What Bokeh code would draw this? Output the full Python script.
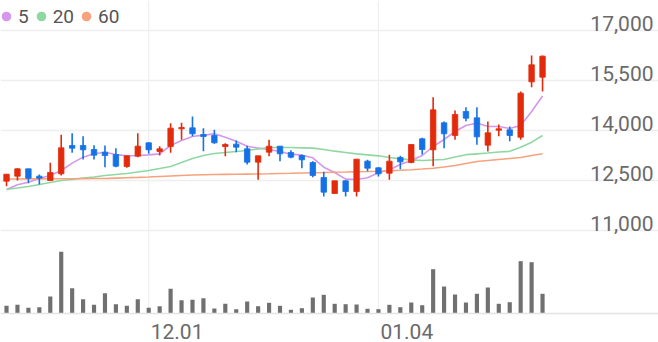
from bokeh.plotting import figure
from bokeh.models import (ColumnDataSource, Range1d, FixedTicker, Span, Legend, LegendItem, Grid)
from bokeh.core.properties import value
from bokeh.embed import file_html
from bokeh.resources import INLINE

# ---- data ----
opens = [12480, 12630, 12850, 12630, 12500, 12700, 13550, 13550, 13430, 13350,
         13280, 12920, 13230, 13630, 13370, 13520, 14050, 14080, 13880, 13850,
         13520, 13590, 13450, 13050, 13350, 13530, 13340, 13250, 13040, 12590,
         12110, 12490, 12170, 13080, 12880, 12720, 13190, 13040, 13750, 13420,
         14230, 13850, 14570, 14380, 13560, 14010, 14020, 13800, 15460, 15600]
highs = [12690, 12870, 12850, 12680, 13030, 13870, 13920, 13830, 13560, 13550,
         13470, 13240, 13920, 13650, 13530, 14220, 14230, 14420, 14070, 14020,
         13620, 13700, 13540, 13240, 13720, 13530, 13410, 13280, 13080, 12760,
         12490, 12510, 13140, 13120, 12900, 13270, 13240, 13580, 13780, 15000,
         14270, 14600, 14700, 14700, 14270, 14180, 14120, 15170, 16250, 16250]
lows = [12330, 12500, 12420, 12380, 12500, 12650, 13330, 13130, 13130, 12900,
        12900, 12880, 13200, 13300, 13250, 13330, 13720, 13830, 13380, 13600,
        13230, 13350, 12980, 12520, 13230, 13080, 13170, 12870, 12600, 12020,
        12110, 12020, 12020, 12780, 12620, 12520, 12840, 13020, 13280, 12930,
        13470, 13720, 14280, 13570, 13370, 13830, 13680, 13720, 15300, 15170]
closes = [12690, 12850, 12570, 12570, 12740, 13480, 13470, 13420, 13260, 13250,
          12930, 13240, 13530, 13420, 13450, 14070, 14090, 13900, 13820, 13630,
          13580, 13500, 13050, 13240, 13530, 13300, 13200, 13120, 12650, 12150,
          12490, 12170, 13140, 12870, 12700, 13080, 13060, 13580, 13430, 14620,
          13900, 14480, 14370, 13810, 13930, 14050, 13850, 15120, 15970, 16230]
ma5 = [12230, 12370, 12450, 12560, 12650, 12800, 13020, 13200, 13300, 13350,
       13280, 13240, 13250, 13270, 13300, 13550, 13700, 13820, 13860, 13900,
       13800, 13680, 13530, 13470, 13430, 13370, 13290, 13260, 13180, 12900,
       12740, 12540, 12530, 12580, 12730, 12820, 12980, 13100, 13250, 13520,
       13730, 13970, 14150, 14225, 14120, 14120, 14060, 14150, 14570, 15035]
ma20 = [12230, 12275, 12320, 12380, 12440, 12500, 12530, 12575, 12605, 12650,
        12680, 12710, 12755, 12800, 12860, 12920, 13040, 13160, 13250, 13310,
        13340, 13370, 13400, 13445, 13490, 13490, 13490, 13480, 13470, 13430,
        13380, 13340, 13300, 13270, 13240, 13190, 13150, 13120, 13100, 13115,
        13130, 13205, 13275, 13300, 13325, 13355, 13375, 13500, 13650, 13850]
ma60 = [12545, 12545, 12548, 12548, 12551, 12551, 12554, 12557, 12560, 12560,
        12572, 12584, 12593, 12605, 12620, 12635, 12650, 12665, 12674, 12680,
        12683, 12686, 12692, 12695, 12701, 12710, 12716, 12725, 12734, 12740,
        12749, 12755, 12764, 12770, 12779, 12791, 12806, 12824, 12845, 12869,
        12905, 12950, 13010, 13070, 13100, 13130, 13160, 13190, 13250, 13301]
volumes = [154, 174, 114, 126, 340, 1234, 506, 286, 174, 406,
           186, 154, 286, 114, 146, 494, 266, 274, 306, 100,
           194, 86, 240, 146, 214, 154, 74, 106, 320, 374,
           194, 186, 180, 94, 86, 174, 126, 220, 166, 886,
           540, 380, 220, 394, 520, 194, 226, 1046, 1026, 394]
price_ticks = [11000, 12500, 14000, 15500, 17000]
price_tick_labels = ["11,000", "12,500", "14,000", "15,500", "17,000"]
date_tick_index = [13, 34]
date_tick_labels = ["12.01", "01.04"]
ma_names = ["5", "20", "60"]

# ---- styles ----
UP = "#e32b0c"
DOWN = "#1572e6"
MA_COLORS = ["#d596ee", "#8fd8a2", "#f6a27e"]
GRID = "#eeeeee"
LABEL = "#6a6a6a"
FONT = value("Roboto")

n = len(closes)
idx = list(range(n))
colors = [UP if c >= o else DOWN for o, c in zip(opens, closes)]
src = ColumnDataSource(dict(
    x=idx, o=opens, h=highs, l=lows, c=closes,
    top=[max(o, c) for o, c in zip(opens, closes)],
    bottom=[min(o, c) for o, c in zip(opens, closes)],
    color=colors, vol=volumes, ma5=ma5, ma20=ma20, ma60=ma60,
))

X_START, X_END = -0.55, 59.6
p = figure(width=658, height=342, output_backend="svg", toolbar_location=None,
           x_range=Range1d(X_START, X_END), y_range=Range1d(7640, 17900),
           x_axis_location=None, y_axis_location=None,
           min_border=0, outline_line_color=None)
p.xgrid.visible = False
p.ygrid.visible = False
p.extra_y_ranges = {"vol": Range1d(-580, 6260)}

p.add_layout(Grid(dimension=1, ticker=FixedTicker(ticks=price_ticks),
                  grid_line_color=GRID, grid_line_width=1.5))

# vertical date lines (price + volume panels)
p.segment(x0=date_tick_index, x1=date_tick_index, y0=[0] * len(date_tick_index),
          y1=[6260] * len(date_tick_index), y_range_name="vol",
          line_color=GRID, line_width=1.2)

# volume baseline
p.add_layout(Span(location=0, dimension="width", y_range_name="vol",
                  line_color="#e4e4e4", line_width=1.5))

# volume bars
p.vbar(x="x", top="vol", bottom=0, width=0.38, source=src, y_range_name="vol",
       fill_color="#707070", line_color=None)

# moving averages
ma_keys = ["ma5", "ma20", "ma60"]
for key, col in zip(ma_keys, MA_COLORS):
    p.line(x="x", y=key, source=src, line_color=col, line_width=1.6)

# candles
p.segment(x0="x", x1="x", y0="h", y1="l", source=src, line_color="color", line_width=1.6)
p.vbar(x="x", top="top", bottom="bottom", width=0.5, source=src,
       fill_color="color", line_color="color", line_width=0.8)

# price labels (inside the plot, right aligned above their grid lines)
p.text(x=[X_END] * len(price_ticks), y=price_ticks, text=price_tick_labels,
       text_align="right", text_baseline="alphabetic", x_offset=-5, y_offset=-7,
       text_font=FONT, text_font_size="21px", text_color=LABEL)

# date labels
p.text(x=date_tick_index, y=[0] * len(date_tick_index), text=date_tick_labels,
       y_range_name="vol", text_align="left", text_baseline="alphabetic",
       x_offset=2, y_offset=18, text_font=FONT, text_font_size="21px", text_color=LABEL)

# legend with circle markers (hidden renderers: only their legend swatch shows)
items = []
for name, key, col in zip(ma_names, ma_keys, MA_COLORS):
    r = p.scatter(x="x", y=key, source=src, marker="circle", size=10,
                  fill_color=col, line_color=None, visible=False)
    items.append(LegendItem(label=name, renderers=[r]))
legend = Legend(items=items, location=(-6, 314), orientation="horizontal",
                border_line_alpha=0, background_fill_alpha=0, click_policy="none",
                padding=0, margin=0, spacing=0, label_standoff=0,
                glyph_width=24, glyph_height=24, label_width=0, label_height=24,
                label_text_font="Roboto", label_text_font_size="19px",
                label_text_color="#555555", label_text_baseline="middle")
p.add_layout(legend)

open("out.html", "w").write(file_html(p, INLINE))
